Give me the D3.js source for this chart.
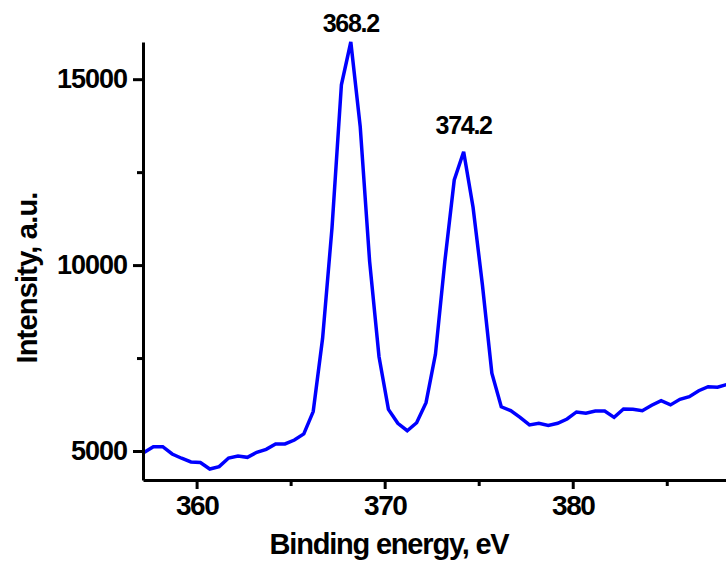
<!DOCTYPE html>
<html>
<head>
<meta charset="utf-8">
<script src="https://cdn.jsdelivr.net/npm/d3@7/dist/d3.min.js"></script>
<style>
  html, body { margin: 0; padding: 0; background: #fff; }
  svg { display: block; }
  text { font-family: "Liberation Sans", Arial, sans-serif; font-weight: bold; fill: #000; }
</style>
</head>
<body>
<svg id="chart" width="726" height="562"></svg>
<script>
// Binding energies (eV)
const energy = [
  357.2, 357.7, 358.2, 358.7, 359.2, 359.7, 360.2, 360.7, 361.2, 361.7,
  362.2, 362.7, 363.2, 363.7, 364.2, 364.7, 365.2, 365.7, 366.2, 366.7,
  367.2, 367.7, 368.2, 368.7, 369.2, 369.7, 370.2, 370.7, 371.2, 371.7,
  372.2, 372.7, 373.2, 373.7, 374.2, 374.7, 375.2, 375.7, 376.2, 376.7,
  377.2, 377.7, 378.2, 378.7, 379.2, 379.7, 380.2, 380.7, 381.2, 381.7,
  382.2, 382.7, 383.2, 383.7, 384.2, 384.7, 385.2, 385.7, 386.2, 386.7,
  387.2, 387.7, 388.2
];
// Intensity (a.u.)
const intensity = [
  4960, 5115, 5115, 4920, 4805, 4705, 4690, 4515, 4580, 4810,
  4865, 4830, 4965, 5045, 5190, 5190, 5295, 5460, 6060, 8030,
  11000, 14850, 16000, 13725, 10100, 7535, 6120, 5745, 5545, 5760,
  6300, 7600, 10100, 12290, 13050, 11555, 9460, 7090, 6190, 6085,
  5905, 5700, 5745, 5690, 5745, 5860, 6050, 6015, 6075, 6075,
  5905, 6130, 6120, 6085, 6230, 6355, 6240, 6390, 6460, 6620,
  6730, 6715, 6790
];
const xMajorTicks = [360, 370, 380];
const xMinorTicks = [365, 375, 385];
const yMajorTicks = [5000, 10000, 15000];
const yMinorTicks = [7500, 12500];
const peakEnergy = [368.2, 374.2];
const peakIntensity = [16000, 13050];
const peakText = ["368.2", "374.2"];
const xTitle = "Binding energy, eV";
const yTitle = "Intensity, a.u.";

const data = energy.map((e, i) => ({ x: e, y: intensity[i] }));
const peaks = peakEnergy.map((e, i) => ({ x: e, y: peakIntensity[i], text: peakText[i] }));
const peakGap = [10, 18];

const svg = d3.select("#chart");
const mLeft = 143, mRight = 726, mTop = 42, mBottom = 480;

const x = d3.scaleLinear().domain([357.15, 388.15]).range([mLeft, mRight]);
const y = d3.scaleLinear().domain([4220, 16000]).range([mBottom, mTop]);

svg.append("defs").append("clipPath").attr("id", "plotclip")
  .append("rect").attr("x", mLeft).attr("y", 0).attr("width", mRight - mLeft).attr("height", mBottom);

const line = d3.line().x(d => x(d.x)).y(d => y(d.y));
svg.append("path")
  .datum(data)
  .attr("clip-path", "url(#plotclip)")
  .attr("fill", "none")
  .attr("stroke", "#0000ff")
  .attr("stroke-width", 3.5)
  .attr("stroke-linejoin", "miter")
  .attr("d", line);

function styleAxis(g) {
  g.selectAll("path.domain").attr("stroke", "#000").attr("stroke-width", 3);
  g.selectAll(".tick line").attr("stroke", "#000").attr("stroke-width", 3);
}

const gxMinor = svg.append("g").attr("transform", `translate(0,${mBottom})`)
  .call(d3.axisBottom(x).tickValues(xMinorTicks).tickSizeInner(6).tickSizeOuter(0).tickFormat(""));
gxMinor.select("path.domain").remove();
styleAxis(gxMinor);

const gx = svg.append("g").attr("transform", `translate(0,${mBottom})`)
  .call(d3.axisBottom(x).tickValues(xMajorTicks).tickSizeInner(9).tickSizeOuter(0).tickPadding(6).tickFormat(d3.format("d")));
styleAxis(gx);
gx.selectAll(".tick text")
  .attr("font-size", 28).attr("letter-spacing", "-1.5px")
  .attr("font-family", "Liberation Sans, Arial, sans-serif").attr("font-weight", "bold")
  .attr("fill", "#000");

const gyMinor = svg.append("g").attr("transform", `translate(${mLeft},0)`)
  .call(d3.axisLeft(y).tickValues(yMinorTicks).tickSizeInner(6).tickSizeOuter(0).tickFormat(""));
gyMinor.select("path.domain").remove();
styleAxis(gyMinor);

const gy = svg.append("g").attr("transform", `translate(${mLeft},0)`)
  .call(d3.axisLeft(y).tickValues(yMajorTicks).tickSizeInner(10).tickSizeOuter(0).tickPadding(6).tickFormat(d3.format("d")));
styleAxis(gy);
gy.selectAll(".tick text")
  .attr("font-size", 27).attr("letter-spacing", "-1px")
  .attr("font-family", "Liberation Sans, Arial, sans-serif").attr("font-weight", "bold")
  .attr("fill", "#000");

svg.selectAll("text.peak").data(peaks).enter().append("text")
  .attr("class", "peak")
  .attr("x", d => x(d.x))
  .attr("y", (d, i) => y(d.y) - peakGap[i])
  .attr("text-anchor", "middle")
  .attr("font-size", 25)
  .attr("letter-spacing", "-1.3px")
  .text(d => d.text);

svg.append("text")
  .attr("x", 389).attr("y", 554)
  .attr("text-anchor", "middle")
  .attr("font-size", 29)
  .attr("letter-spacing", "-1.2px")
  .text(xTitle);

svg.append("text")
  .attr("transform", "translate(37,278) rotate(-90)")
  .attr("text-anchor", "middle")
  .attr("font-size", 29)
  .attr("letter-spacing", "-0.8px")
  .text(yTitle);
</script>
</body>
</html>
